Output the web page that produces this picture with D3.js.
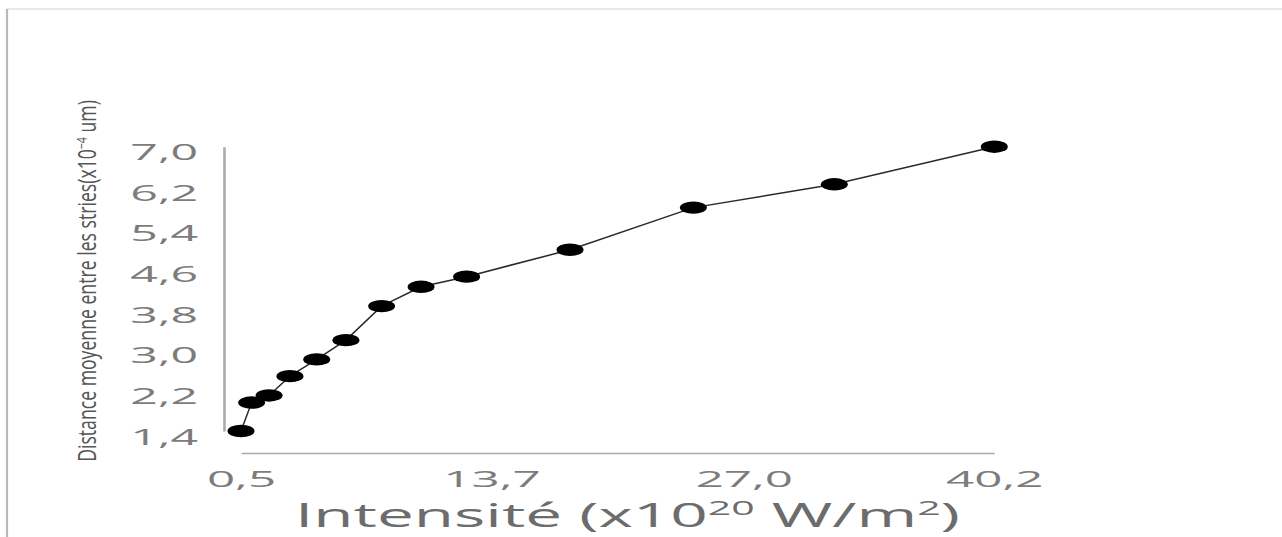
<!DOCTYPE html>
<html>
<head>
<meta charset="utf-8">
<script src="https://cdn.jsdelivr.net/npm/d3@7"></script>
<style>
  html, body { margin: 0; padding: 0; background: #fff; }
  svg { display: block; }
  text { font-family: "Open Sans", sans-serif; }
</style>
</head>
<body>
<svg id="chart" width="1282" height="537"></svg>
<script>
// ---- data ----
const intensity = [0.5, 1.06, 1.98, 3.08, 4.49, 6.03, 7.91, 9.99, 12.39, 17.84, 24.34, 31.77, 40.2];
const distance  = [1.4, 1.96, 2.10, 2.48, 2.81, 3.19, 3.86, 4.24, 4.44, 4.97, 5.80, 6.26, 7.0];
const xTickValues = [0.5, 13.7, 27.0, 40.2];
const yTickValues = [1.4, 2.2, 3.0, 3.8, 4.6, 5.4, 6.2, 7.0];
const xTitle = ["Intensité (x10", "20", " W/m", "2", ")"];
const yTitle = ["Distance moyenne entre les stries(x10", "-4", " um)"];

const svg = d3.select("#chart");
const W = 1282, H = 537;

// frame
svg.append("line").attr("x1", 7).attr("x2", W).attr("y1", 9).attr("y2", 9)
  .attr("stroke", "#d2d2d2").attr("stroke-width", 1.2);
svg.append("line").attr("x1", 7).attr("x2", 7).attr("y1", 9).attr("y2", H)
  .attr("stroke", "#b8b8b8").attr("stroke-width", 2.2);

const x = d3.scaleLinear().domain([0.5, 40.2]).range([241, 994.3]);
const y = d3.scaleLinear().domain([1.4, 7.0]).range([431, 146.7]);
const fmt = v => d3.format(".1f")(v).replace(".", ",");

function stretch(textSel, sx, tx, ty) {
  textSel.attr("x", 0).attr("y", 0).attr("dy", null)
    .attr("transform", `translate(${tx},${ty}) scale(${sx},1)`);
}

// y axis
const gy = svg.append("g").attr("transform", "translate(224,0)")
  .call(d3.axisLeft(y).tickValues(yTickValues).tickSize(0).tickFormat(fmt));
gy.select(".domain").attr("stroke", "#ababab").attr("stroke-width", 2.6);
gy.selectAll(".tick text").each(function() {
  const t = d3.select(this);
  t.attr("font-size", 21).attr("fill", "#7c7c7c").attr("font-family", "Open Sans")
   .attr("text-anchor", "end");
  stretch(t, 2.3, -26, 13);
});

// x axis
const gx = svg.append("g").attr("transform", "translate(0,453)")
  .call(d3.axisBottom(x).tickValues(xTickValues).tickSize(0).tickFormat(fmt));
gx.select(".domain").attr("stroke", "#ababab").attr("stroke-width", 1.4);
gx.selectAll(".tick text").each(function() {
  const t = d3.select(this);
  t.attr("font-size", 21).attr("fill", "#7c7c7c").attr("font-family", "Open Sans")
   .attr("text-anchor", "middle");
  stretch(t, 2.35, 0, 34);
});

// line + markers
const pts = intensity.map((v, i) => [v, distance[i]]);
svg.append("path").datum(pts)
  .attr("fill", "none").attr("stroke", "#2a2a2a").attr("stroke-width", 1.5)
  .attr("d", d3.line().x(d => x(d[0])).y(d => y(d[1])));
svg.selectAll("ellipse.pt").data(pts).join("ellipse").attr("class", "pt")
  .attr("cx", d => x(d[0])).attr("cy", d => y(d[1]))
  .attr("rx", 13.5).attr("ry", 6.2).attr("fill", "#000");

// x title
const xt = svg.append("text").attr("font-size", 32).attr("fill", "#6c6c6c")
  .attr("text-anchor", "middle");
xTitle.forEach((s, i) => {
  const sup = i % 2 === 1;
  xt.append("tspan").text(s)
    .attr("font-size", sup ? 20 : 32)
    .attr("dy", sup ? -12 : (i > 0 ? 12 : 0));
});
{
  const w = xt.node().getBBox().width;
  stretch(xt, 665 / w, 627.5, 527);
}

// y title
const yg = svg.append("g").attr("transform", "translate(96,281) rotate(-90)");
const yt = yg.append("text").attr("font-size", 25).attr("fill", "#555")
  .attr("text-anchor", "middle");
yTitle.forEach((s, i) => {
  const sup = i % 2 === 1;
  yt.append("tspan").text(s.replace("-", "\u2212"))
    .attr("font-size", sup ? 15 : 25)
    .attr("dy", sup ? -9 : (i > 0 ? 9 : 0));
});
{
  const w = yt.node().getBBox().width;
  yt.attr("transform", `scale(${362 / w},1)`);
}
</script>
</body>
</html>
